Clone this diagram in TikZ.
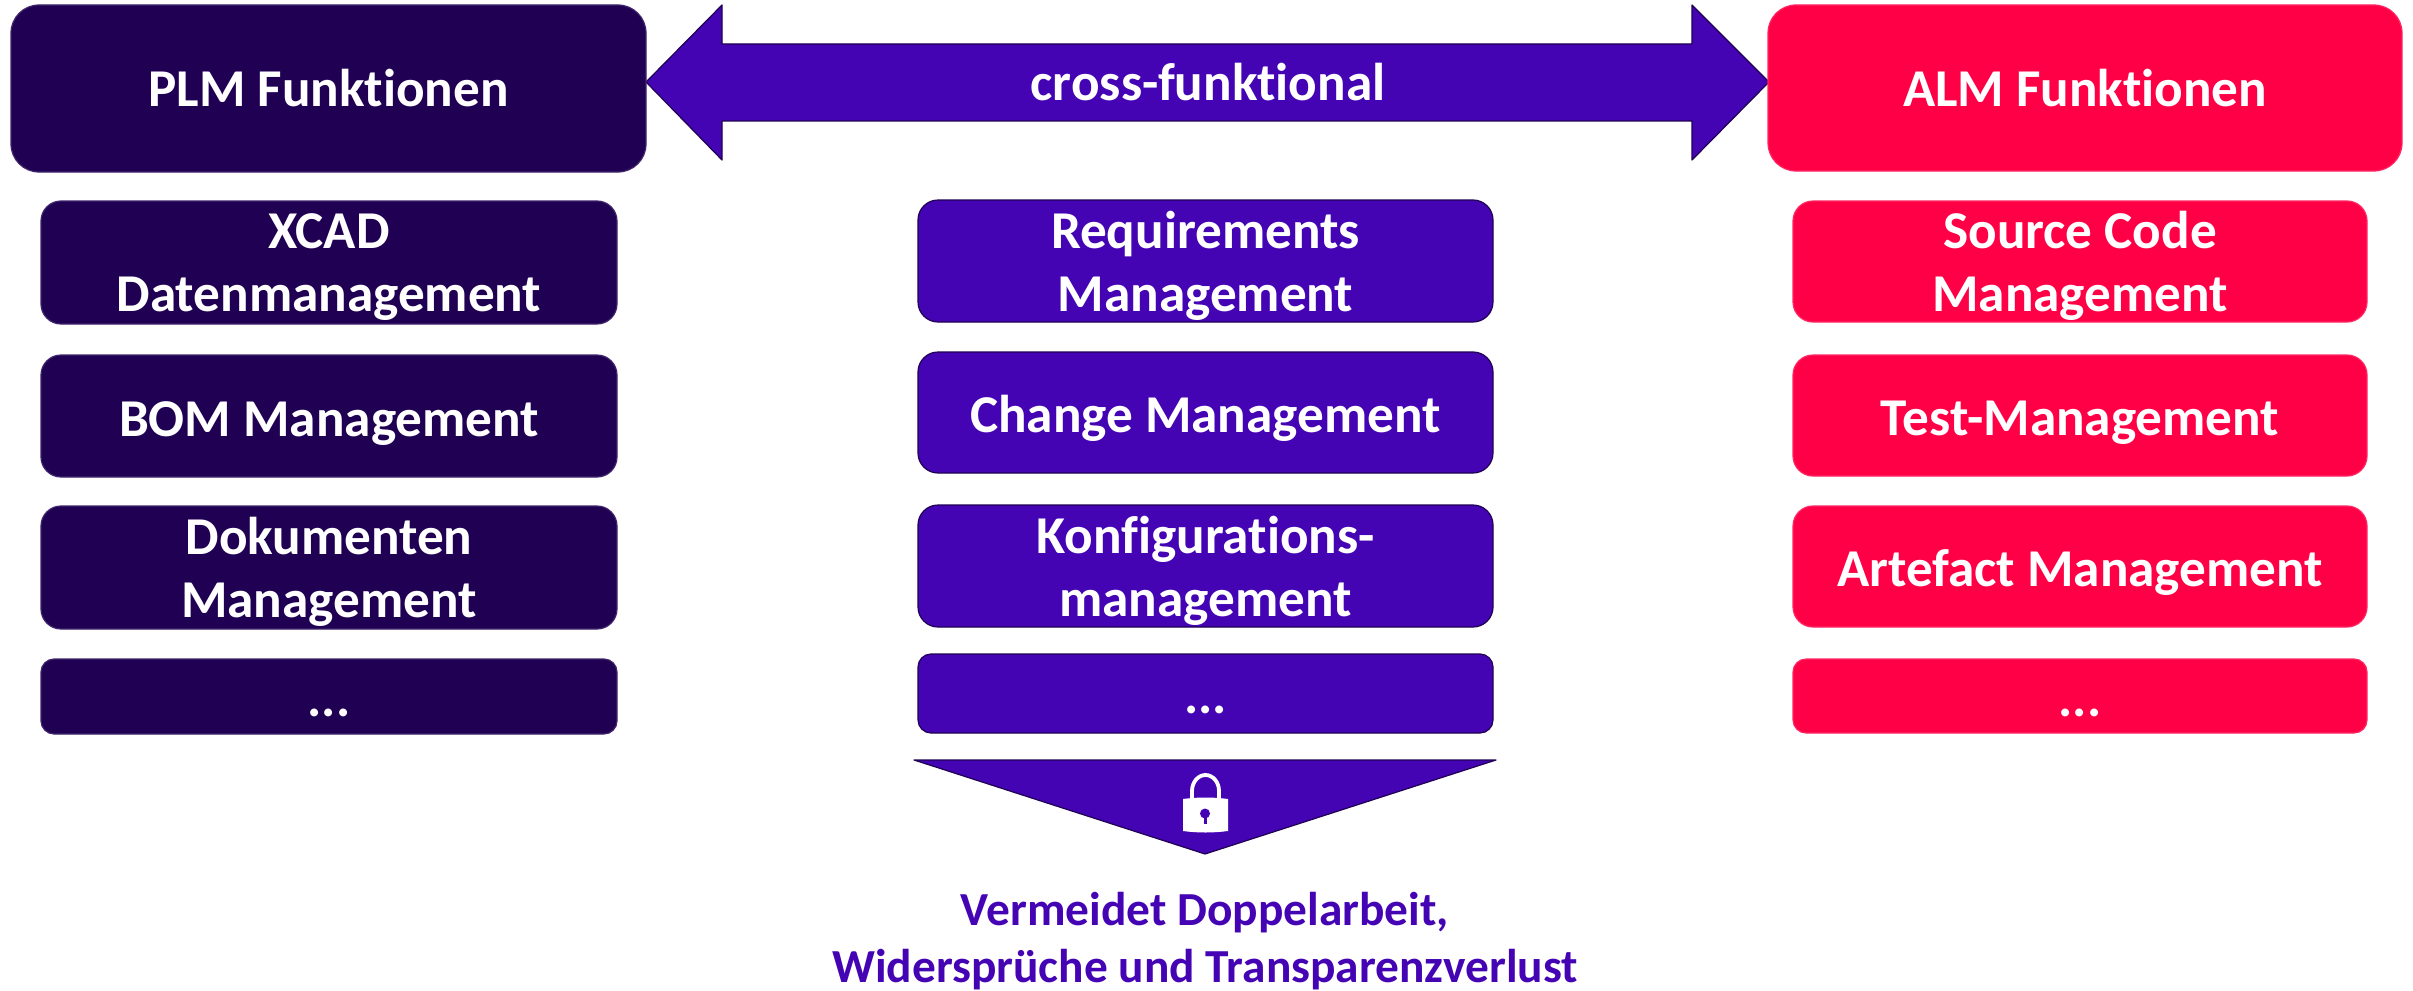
\documentclass[tikz,border=0pt]{standalone}
\usepackage{fontspec}
\setmainfont[Ligatures=NoCommon]{Carlito}
\definecolor{plmc}{RGB}{32,0,82}
\definecolor{midc}{RGB}{68,4,180}
\definecolor{almc}{RGB}{255,0,70}
\newcommand{\boxat}[7]{\node[#2,minimum width={(#5-#3)*0.5pt},minimum height={(#6-#4)*0.5pt}] (#1) at ({(#3+#5)/2},{(#4+#6)/2}) {#7};}
\tikzset{
  fbox/.style={inner sep=0pt,line width=0.6pt,rounded corners=#1,align=center,text=white,
    font=\bfseries\fontsize{26.6}{31.5}\selectfont},
  plmbox/.style={fbox=#1,fill=plmc,draw=plmc!85!white},
  midbox/.style={fbox=#1,fill=midc,draw=plmc},
  almbox/.style={fbox=#1,fill=almc,draw=almc!85!white},
  dots/.style={text height=20pt,text depth=0pt},
  oneline/.style={text height=20pt,text depth=0pt},
  head/.style={text height=18.5pt,text depth=0pt},
  twoline/.style={text depth=0pt},
}
\begin{document}
\begin{tikzpicture}[x=0.5pt,y=-0.5pt]
\useasboundingbox (0,0) rectangle (2413,990);
% arrow
\draw[fill=midc,draw=plmc,line width=0.6pt,line join=round]
  (646,82) -- (722,5) -- (722,44) -- (1692,44) -- (1692,5) -- (1769,82) -- (1692,160) -- (1692,121) -- (722,121) -- (722,160) -- cycle;
\node[text=white,font=\bfseries\fontsize{26.6}{31.5}\selectfont,inner sep=0pt] (cross) at (1208,82) {cross-funktional};
% headers
\boxat{plm}{plmbox=14pt,head}{11}{5}{646}{172}{PLM Funktionen}
\boxat{alm}{almbox=14pt,head}{1768}{5}{2402}{171}{ALM Funktionen}
% PLM column
\boxat{p1}{plmbox=10pt,twoline}{41}{201}{617}{324}{XCAD\\Datenmanagement}
\boxat{p2}{plmbox=10pt,oneline}{41}{355}{617}{477}{BOM Management}
\boxat{p3}{plmbox=10pt,twoline}{41}{506}{617}{629}{Dokumenten\\Management}
\boxat{p4}{plmbox=6.5pt,dots}{41}{659}{617}{734}{...}
% middle column
\boxat{m1}{midbox=10pt,twoline}{918}{200}{1493}{322}{Requirements\\Management}
\boxat{m2}{midbox=10pt,oneline}{918}{352}{1493}{473}{Change Management}
\boxat{m3}{midbox=10pt,twoline}{918}{505}{1493}{627}{Konfigurations-\\management}
\boxat{m4}{midbox=6.5pt,dots}{918}{654}{1493}{733}{...}
% ALM column
\boxat{a1}{almbox=10pt,twoline}{1793}{201}{2367}{322}{Source Code\\Management}
\boxat{a2}{almbox=10pt,oneline}{1793}{355}{2367}{476}{Test-Management}
\boxat{a3}{almbox=10pt,oneline}{1793}{506}{2367}{627}{Artefact Management}
\boxat{a4}{almbox=6.5pt,dots}{1793}{659}{2367}{733}{...}
% triangle
\draw[fill=midc,draw=plmc,line width=0.6pt,line join=round] (914,760) -- (1496,760) -- (1205,854) -- cycle;
% lock
\fill[white] (1183,799) .. controls (1198,797) and (1213,797) .. (1228,799) -- (1228,831) .. controls (1213,833) and (1198,833) .. (1183,831) -- cycle;
\draw[white,line width=1.9pt] (1192,799) -- (1192,791) arc[start angle=180,end angle=0,x radius=13.5,y radius=-16] -- (1219,799);
\fill[midc] (1205,813.5) circle[radius=5];
\fill[midc] (1203.5,815) rectangle (1206.5,824);
% conclusion
\node[text=midc,font=\bfseries\fontsize{23.7}{28.5}\selectfont,align=center,inner sep=0pt] (res) at (1205,941) {Vermeidet Doppelarbeit,\\Widersprüche und Transparenzverlust};
\end{tikzpicture}
\end{document}
